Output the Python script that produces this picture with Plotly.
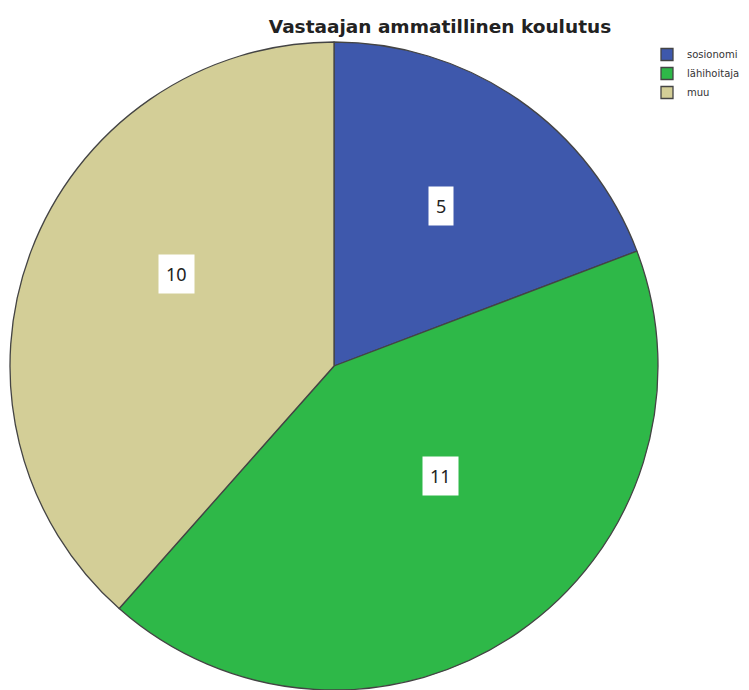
import math
import plotly.graph_objects as go

# data
categories = ["sosionomi", "lähihoitaja", "muu"]
counts = [5, 11, 10]
colors = ["#3e58ac", "#2eb848", "#d3ce97"]
title_text = "Vastaajan ammatillinen koulutus"

W, H = 749, 690

# pie placement in pixels
left, right, top, bottom = 10, 658, 42, 690
cx = (left + right) / 2
cy = (top + bottom) / 2
radius = (right - left) / 2

fig = go.Figure()
fig.add_trace(go.Pie(
    labels=categories,
    values=counts,
    sort=False,
    direction="clockwise",
    rotation=0,
    marker=dict(colors=colors, line=dict(color="#444444", width=1.3)),
    textinfo="none",
    hoverinfo="label+value",
    domain=dict(x=[left / W, right / W], y=[1 - bottom / H, 1 - top / H]),
))

# value labels in white boxes, placed at each slice's mid-angle
total = sum(counts)
start = 0.0
for v in counts:
    mid = (start + v / 2) / total * 2 * math.pi
    start += v
    px = cx + 0.58 * radius * math.sin(mid)
    py = cy - 0.58 * radius * math.cos(mid) - 25
    fig.add_annotation(
        x=px / W, y=1 - py / H, xref="paper", yref="paper",
        text=str(v), showarrow=False,
        font=dict(family="Noto Sans", size=18, color="#222222"),
        bgcolor="white", borderpad=7,
    )

fig.update_layout(
    width=W, height=H,
    margin=dict(l=0, r=0, t=0, b=0),
    paper_bgcolor="white",
    plot_bgcolor="white",
    title=dict(
        text="<b>" + title_text + "</b>",
        x=440 / W, xanchor="center",
        y=1 - 27 / H, yanchor="middle",
        font=dict(family="DejaVu Sans", size=18.5, color="#222222"),
    ),
    legend=dict(
        x=647 / W, y=1 - 40 / H, xanchor="left", yanchor="top",
        font=dict(family="DejaVu Sans", size=10, color="#333333"),
        itemwidth=30, tracegroupgap=0,
        bgcolor="rgba(0,0,0,0)",
    ),
)

# drop the browser's default body margin so the figure sits at the page corner
fig.write_html("out.html", config={"displayModeBar": False},
               post_script="document.body.style.margin='0';")
